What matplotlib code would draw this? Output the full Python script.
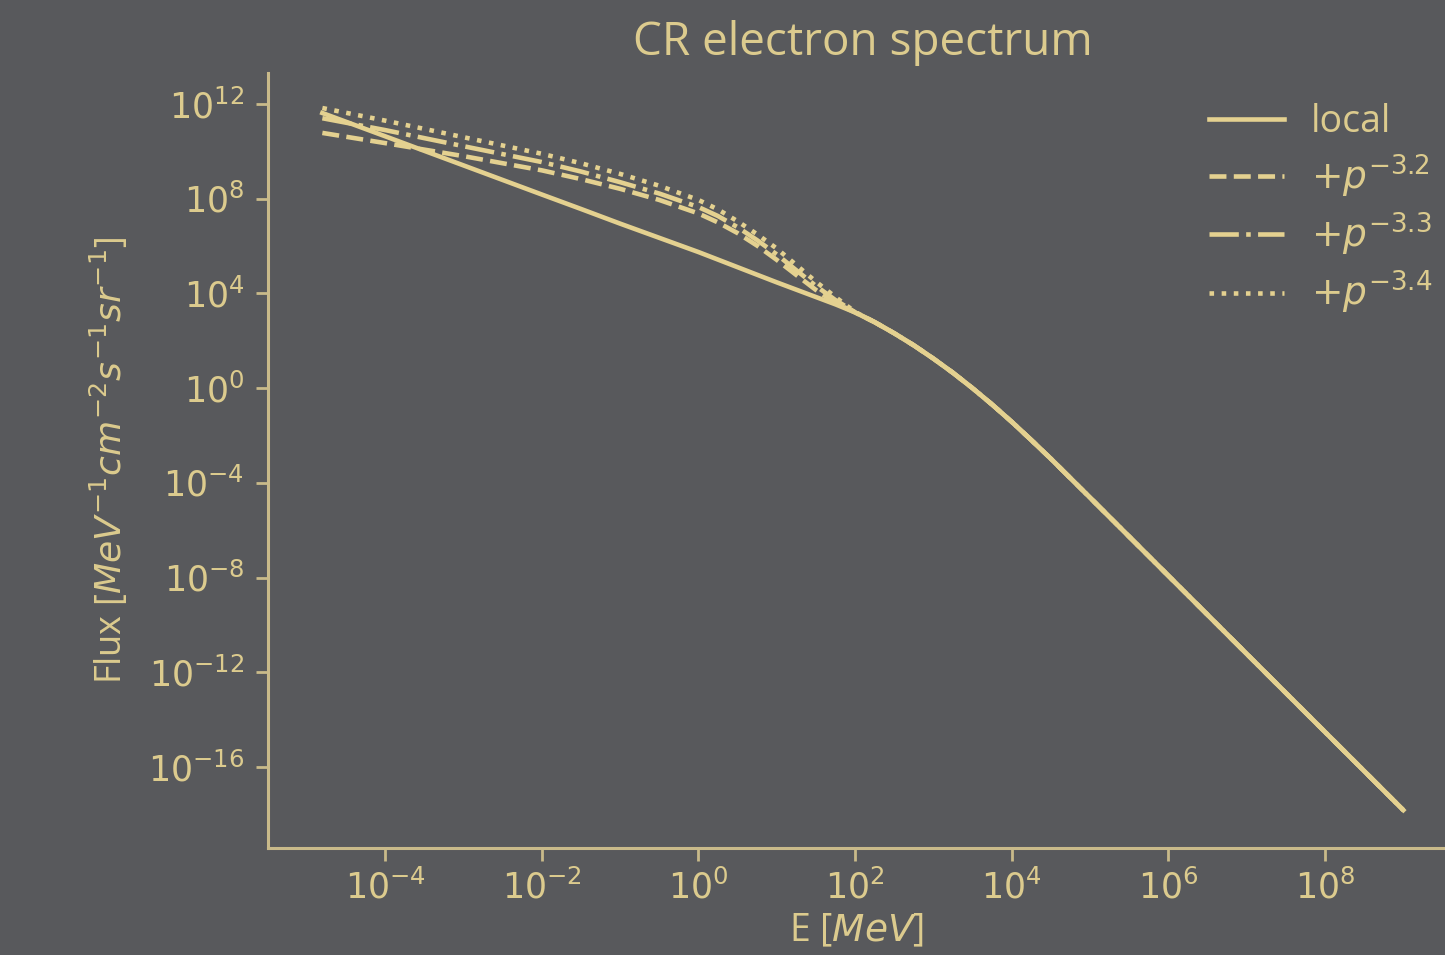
import numpy as np
import matplotlib
matplotlib.use("Agg")
import matplotlib.pyplot as plt
from matplotlib.ticker import NullLocator

# ---- data (log10 values) ----
log_E = [-4.8, -4.0, -3.0, -2.0, -1.5, -1.0, -0.5, 0.0, 0.25, 0.5, 0.75, 1.0, 1.25, 1.5, 1.75, 2.0,
         2.25, 2.5, 2.75, 3.0, 3.25, 3.5, 3.75, 4.0, 4.25, 4.5, 4.75, 5.0, 6.0, 7.0, 8.0, 9.0]
tail = [2.79, 2.32, 1.81, 1.25, 0.65, 0.00, -0.69, -1.42, -2.19, -2.98, -3.80, -4.62, -7.92, -11.22, -14.52, -17.82]
log_local = [11.62, 10.64, 9.41, 8.18, 7.57, 6.95, 6.35, 5.75, 5.43, 5.11, 4.79, 4.47, 4.16, 3.85, 3.54, 3.20] + tail
log_p32 = [10.78, 10.35, 9.80, 9.20, 8.83, 8.42, 7.95, 7.38, 7.00, 6.55, 6.02, 5.42, 4.78, 4.15, 3.60, 3.20] + tail
log_p33 = [11.40, 10.90, 10.22, 9.55, 9.15, 8.70, 8.22, 7.65, 7.27, 6.80, 6.25, 5.65, 4.98, 4.32, 3.72, 3.21] + tail
log_p34 = [11.83, 11.30, 10.60, 9.90, 9.50, 9.05, 8.55, 7.95, 7.55, 7.05, 6.50, 5.90, 5.20, 4.50, 3.85, 3.22] + tail

labels = ["local", r"$+p^{-3.2}$", r"$+p^{-3.3}$", r"$+p^{-3.4}$"]
styles = ["-", "--", "-.", ":"]
series = [log_local, log_p32, log_p33, log_p34]

x_tick_exp = [-4, -2, 0, 2, 4, 6, 8]
y_tick_exp = [12, 8, 4, 0, -4, -8, -12, -16]

BG = "#58595c"
FG = "#dccb8e"
LINE = "#e4d190"
SPINE = "#c9ba8a"

plt.rcParams['font.family'] = ['Open Sans', 'DejaVu Sans']
plt.rcParams['mathtext.fontset'] = 'dejavusans'

fig = plt.figure(figsize=(14.45, 9.55), dpi=100, facecolor=BG)
ax = fig.add_axes([268/1445, 1-848/955, (1445-268)/1445, (848-73)/955], facecolor=BG)

E = 10.0 ** np.array(log_E)
for s, ls, lab in zip(series, styles, labels):
    ax.plot(E, 10.0 ** np.array(s), ls=ls, color=LINE, lw=3.3, label=lab)

ax.set_xscale('log')
ax.set_yscale('log')
ax.set_xlim(10**-5.494, 10**9.532)
ax.set_ylim(10**-19.42, 10**13.31)

ax.set_xticks([10.0**e for e in x_tick_exp])
ax.set_xticklabels([r"$10^{%d}$" % e for e in x_tick_exp])
ax.set_yticks([10.0**e for e in y_tick_exp])
ax.set_yticklabels([r"$10^{%d}$" % e for e in y_tick_exp])
ax.xaxis.set_minor_locator(NullLocator())
ax.yaxis.set_minor_locator(NullLocator())

for side in ['top', 'right']:
    ax.spines[side].set_visible(False)
for side in ['left', 'bottom']:
    ax.spines[side].set_color(SPINE)
    ax.spines[side].set_linewidth(2.2)

ax.tick_params(axis='both', which='major', colors=SPINE, labelcolor=FG,
               labelsize=25, length=9, width=2, pad=8)
ax.tick_params(axis='x', pad=7)

ax.set_title("CR electron spectrum", color=FG, fontsize=33, pad=0,
             x=0.505, y=1 + 18/775)
ax.set_xlabel(r"E [$MeV$]", color=FG, fontsize=27, labelpad=4)
ax.set_ylabel(r"Flux [$MeV^{-1}cm^{-2}s^{-1}sr^{-1}$]", color=FG, fontsize=26, labelpad=12)

leg = ax.legend(loc='upper right', frameon=False, fontsize=27, handlelength=2.0,
                handletextpad=0.7, labelspacing=0.3, borderaxespad=0.2,
                bbox_to_anchor=(1.008, 0.99))
for t in leg.get_texts():
    t.set_color(FG)

fig.savefig("out.png", dpi=100, facecolor=BG)
